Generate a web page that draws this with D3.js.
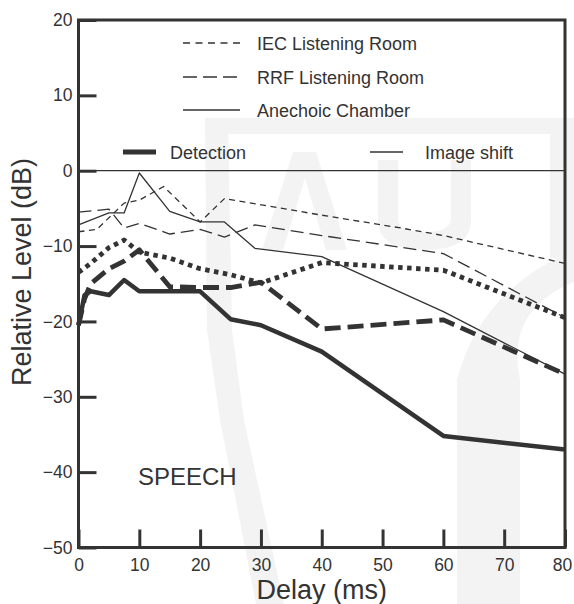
<!DOCTYPE html>
<html>
<head>
<meta charset="utf-8">
<script src="https://cdn.jsdelivr.net/npm/d3@7"></script>
<style>
  html, body { margin: 0; padding: 0; background: #fff; }
  svg { display: block; font-family: "Liberation Sans", Arial, Helvetica, sans-serif; }
</style>
</head>
<body>
<svg id="chart" width="574" height="604"></svg>
<script>
// Detection thresholds (thick lines)
const detAnechoicDelay = [0, 1, 2, 5, 7.5, 10, 20, 25, 30, 40, 60, 80];
const detAnechoicLevel = [-20.5, -16.5, -16, -16.5, -14.5, -16, -16, -19.7, -20.5, -24, -35.2, -37];

const detRrfDelay = [0, 1, 2, 5, 7.5, 10, 15, 20, 25, 30, 40, 60, 80];
const detRrfLevel = [-20.5, -17, -15, -13, -12, -10.5, -15.4, -15.5, -15.5, -14.8, -21, -19.8, -27];

const detIecDelay = [0, 2, 5, 7.5, 10, 15, 20, 25, 30, 40, 60, 80];
const detIecLevel = [-13.5, -12.3, -10.2, -9.2, -10.8, -11.6, -13, -13.8, -14.9, -12.2, -13.2, -19.5];

// Image-shift thresholds (thin lines)
const shiftAnechoicDelay = [0, 5, 7.5, 10, 15, 20, 24, 29, 40, 60, 80];
const shiftAnechoicLevel = [-7.2, -5.6, -5.6, -0.3, -5.4, -6.8, -6.8, -10.3, -11.4, -18.7, -27];

const shiftRrfDelay = [0, 5, 7.5, 10, 15, 20, 24, 29, 40, 60, 80];
const shiftRrfLevel = [-5.5, -5.1, -7.6, -7.0, -8.4, -7.8, -8.8, -7.2, -8.6, -11, -19.5];

const shiftIecDelay = [0, 3, 7.5, 10, 14, 20, 24, 40, 53, 60, 80];
const shiftIecLevel = [-8.1, -7.8, -4.3, -3.9, -2.1, -6.8, -3.7, -5.9, -7.6, -8.6, -12.3];

const xTicks = [0, 10, 20, 30, 40, 50, 60, 70, 80];
const yTicks = [20, 10, 0, -10, -20, -30, -40, -50];

const roomLegend = ["IEC Listening Room", "RRF Listening Room", "Anechoic Chamber"];
const kindLegend = ["Detection", "Image shift"];

const ink = "#333";
const svg = d3.select("#chart");

const x = d3.scaleLinear().domain([0, 80]).range([78.5, 565]);
const y = d3.scaleLinear().domain([-50, 20]).range([547.5, 20]);

// faint logo in the background
const mark = svg.append("g").attr("fill", "#f3f3f3").attr("stroke", "none");
mark.append("rect").attr("x", 205).attr("y", 118).attr("width", 362).attr("height", 16);
mark.append("path").attr("d", "M205,118 L228,118 L232,330 L244,420 L284,604 L256,604 L220,420 L207,330 Z");
mark.append("path").attr("d", "M262,250 L293,152 L316,152 L347,250 L326,250 L305,178 L283,250 Z");
mark.append("path").attr("d", "M378,160 L398,160 L398,218 Q398,232 425,232 Q451,232 451,218 L451,160 L471,160 L471,220 Q471,250 425,250 Q378,250 378,220 Z");
mark.append("rect").attr("x", 550).attr("y", 118).attr("width", 24).attr("height", 140);
mark.append("path").attr("d", "M457,604 L457,380 Q480,290 574,250 L574,282 Q505,310 520,380 L520,604 Z");

// zero reference line
svg.append("line")
  .attr("x1", x(0)).attr("x2", x(80))
  .attr("y1", y(0)).attr("y2", y(0))
  .attr("stroke", ink).attr("stroke-width", 1.2);

const line = d3.line().x(d => x(d[0])).y(d => y(d[1]));
const pairs = (xs, ys) => xs.map((v, i) => [v, ys[i]]);

const series = [
  { xs: shiftIecDelay, ys: shiftIecLevel, w: 1.3, dash: "6,4.5" },
  { xs: shiftRrfDelay, ys: shiftRrfLevel, w: 1.3, dash: "13,6" },
  { xs: shiftAnechoicDelay, ys: shiftAnechoicLevel, w: 1.3, dash: null },
  { xs: detIecDelay, ys: detIecLevel, w: 4.8, dash: "4.5,4.5" },
  { xs: detRrfDelay, ys: detRrfLevel, w: 4.8, dash: "16,7" },
  { xs: detAnechoicDelay, ys: detAnechoicLevel, w: 4.5, dash: null }
];

const plot = svg.append("g");
series.forEach(s => {
  plot.append("path")
    .datum(pairs(s.xs, s.ys))
    .attr("d", line)
    .attr("fill", "none")
    .attr("stroke", ink)
    .attr("stroke-width", s.w)
    .attr("stroke-linejoin", "round")
    .attr("stroke-dasharray", s.dash);
});

// axes with inward ticks
const xAxis = svg.append("g")
  .attr("transform", `translate(0,${y(-50)})`)
  .call(d3.axisBottom(x).tickValues(xTicks).tickSizeInner(-18).tickSizeOuter(0).tickPadding(11));
const yAxis = svg.append("g")
  .attr("transform", `translate(${x(0)},0)`)
  .call(d3.axisLeft(y).tickValues(yTicks).tickSizeInner(-18).tickSizeOuter(0).tickPadding(6));

[xAxis, yAxis].forEach(g => {
  g.select(".domain").remove();
  g.selectAll(".tick line").attr("stroke", ink).attr("stroke-width", 3);
  g.selectAll(".tick text").attr("fill", ink).attr("font-size", 17.5)
    .attr("font-family", "'Liberation Sans', Arial, sans-serif");
});
// keep the last delay label inside the page
xAxis.selectAll(".tick text").filter(d => d === 80).attr("dx", -3);

// frame
svg.append("rect")
  .attr("x", x(0)).attr("y", y(20))
  .attr("width", x(80) - x(0)).attr("height", y(-50) - y(20))
  .attr("fill", "none").attr("stroke", ink).attr("stroke-width", 3);

// axis titles
svg.append("text")
  .attr("x", (x(0) + x(80)) / 2).attr("y", 599)
  .attr("text-anchor", "middle").attr("font-size", 27).attr("fill", ink)
  .text("Delay (ms)");
svg.append("text")
  .attr("transform", "translate(31,272) rotate(-90)")
  .attr("text-anchor", "middle").attr("font-size", 27).attr("fill", ink)
  .text("Relative Level (dB)");

svg.append("text")
  .attr("x", 138).attr("y", 485)
  .attr("font-size", 24).attr("fill", ink)
  .text("SPEECH");

// legend: room types
const roomStyle = [
  { dash: "7,5.5" },
  { dash: "14,6" },
  { dash: null }
];
const roomY = [43, 77, 110];
roomLegend.forEach((label, i) => {
  svg.append("line")
    .attr("x1", 183).attr("x2", 240).attr("y1", roomY[i]).attr("y2", roomY[i])
    .attr("stroke", ink).attr("stroke-width", 1.4)
    .attr("stroke-dasharray", roomStyle[i].dash);
  svg.append("text")
    .attr("x", 257).attr("y", roomY[i] + 6.5)
    .attr("font-size", 18).attr("fill", ink)
    .text(label);
});

// legend: threshold kinds
const kindLine = [
  { x1: 123, x2: 156, w: 5 },
  { x1: 370, x2: 403, w: 1.3 }
];
const kindTextX = [170, 425];
kindLegend.forEach((label, i) => {
  svg.append("line")
    .attr("x1", kindLine[i].x1).attr("x2", kindLine[i].x2)
    .attr("y1", 152).attr("y2", 152)
    .attr("stroke", ink).attr("stroke-width", kindLine[i].w);
  svg.append("text")
    .attr("x", kindTextX[i]).attr("y", 158.5)
    .attr("font-size", 18).attr("fill", ink)
    .text(label);
});
</script>
</body>
</html>
